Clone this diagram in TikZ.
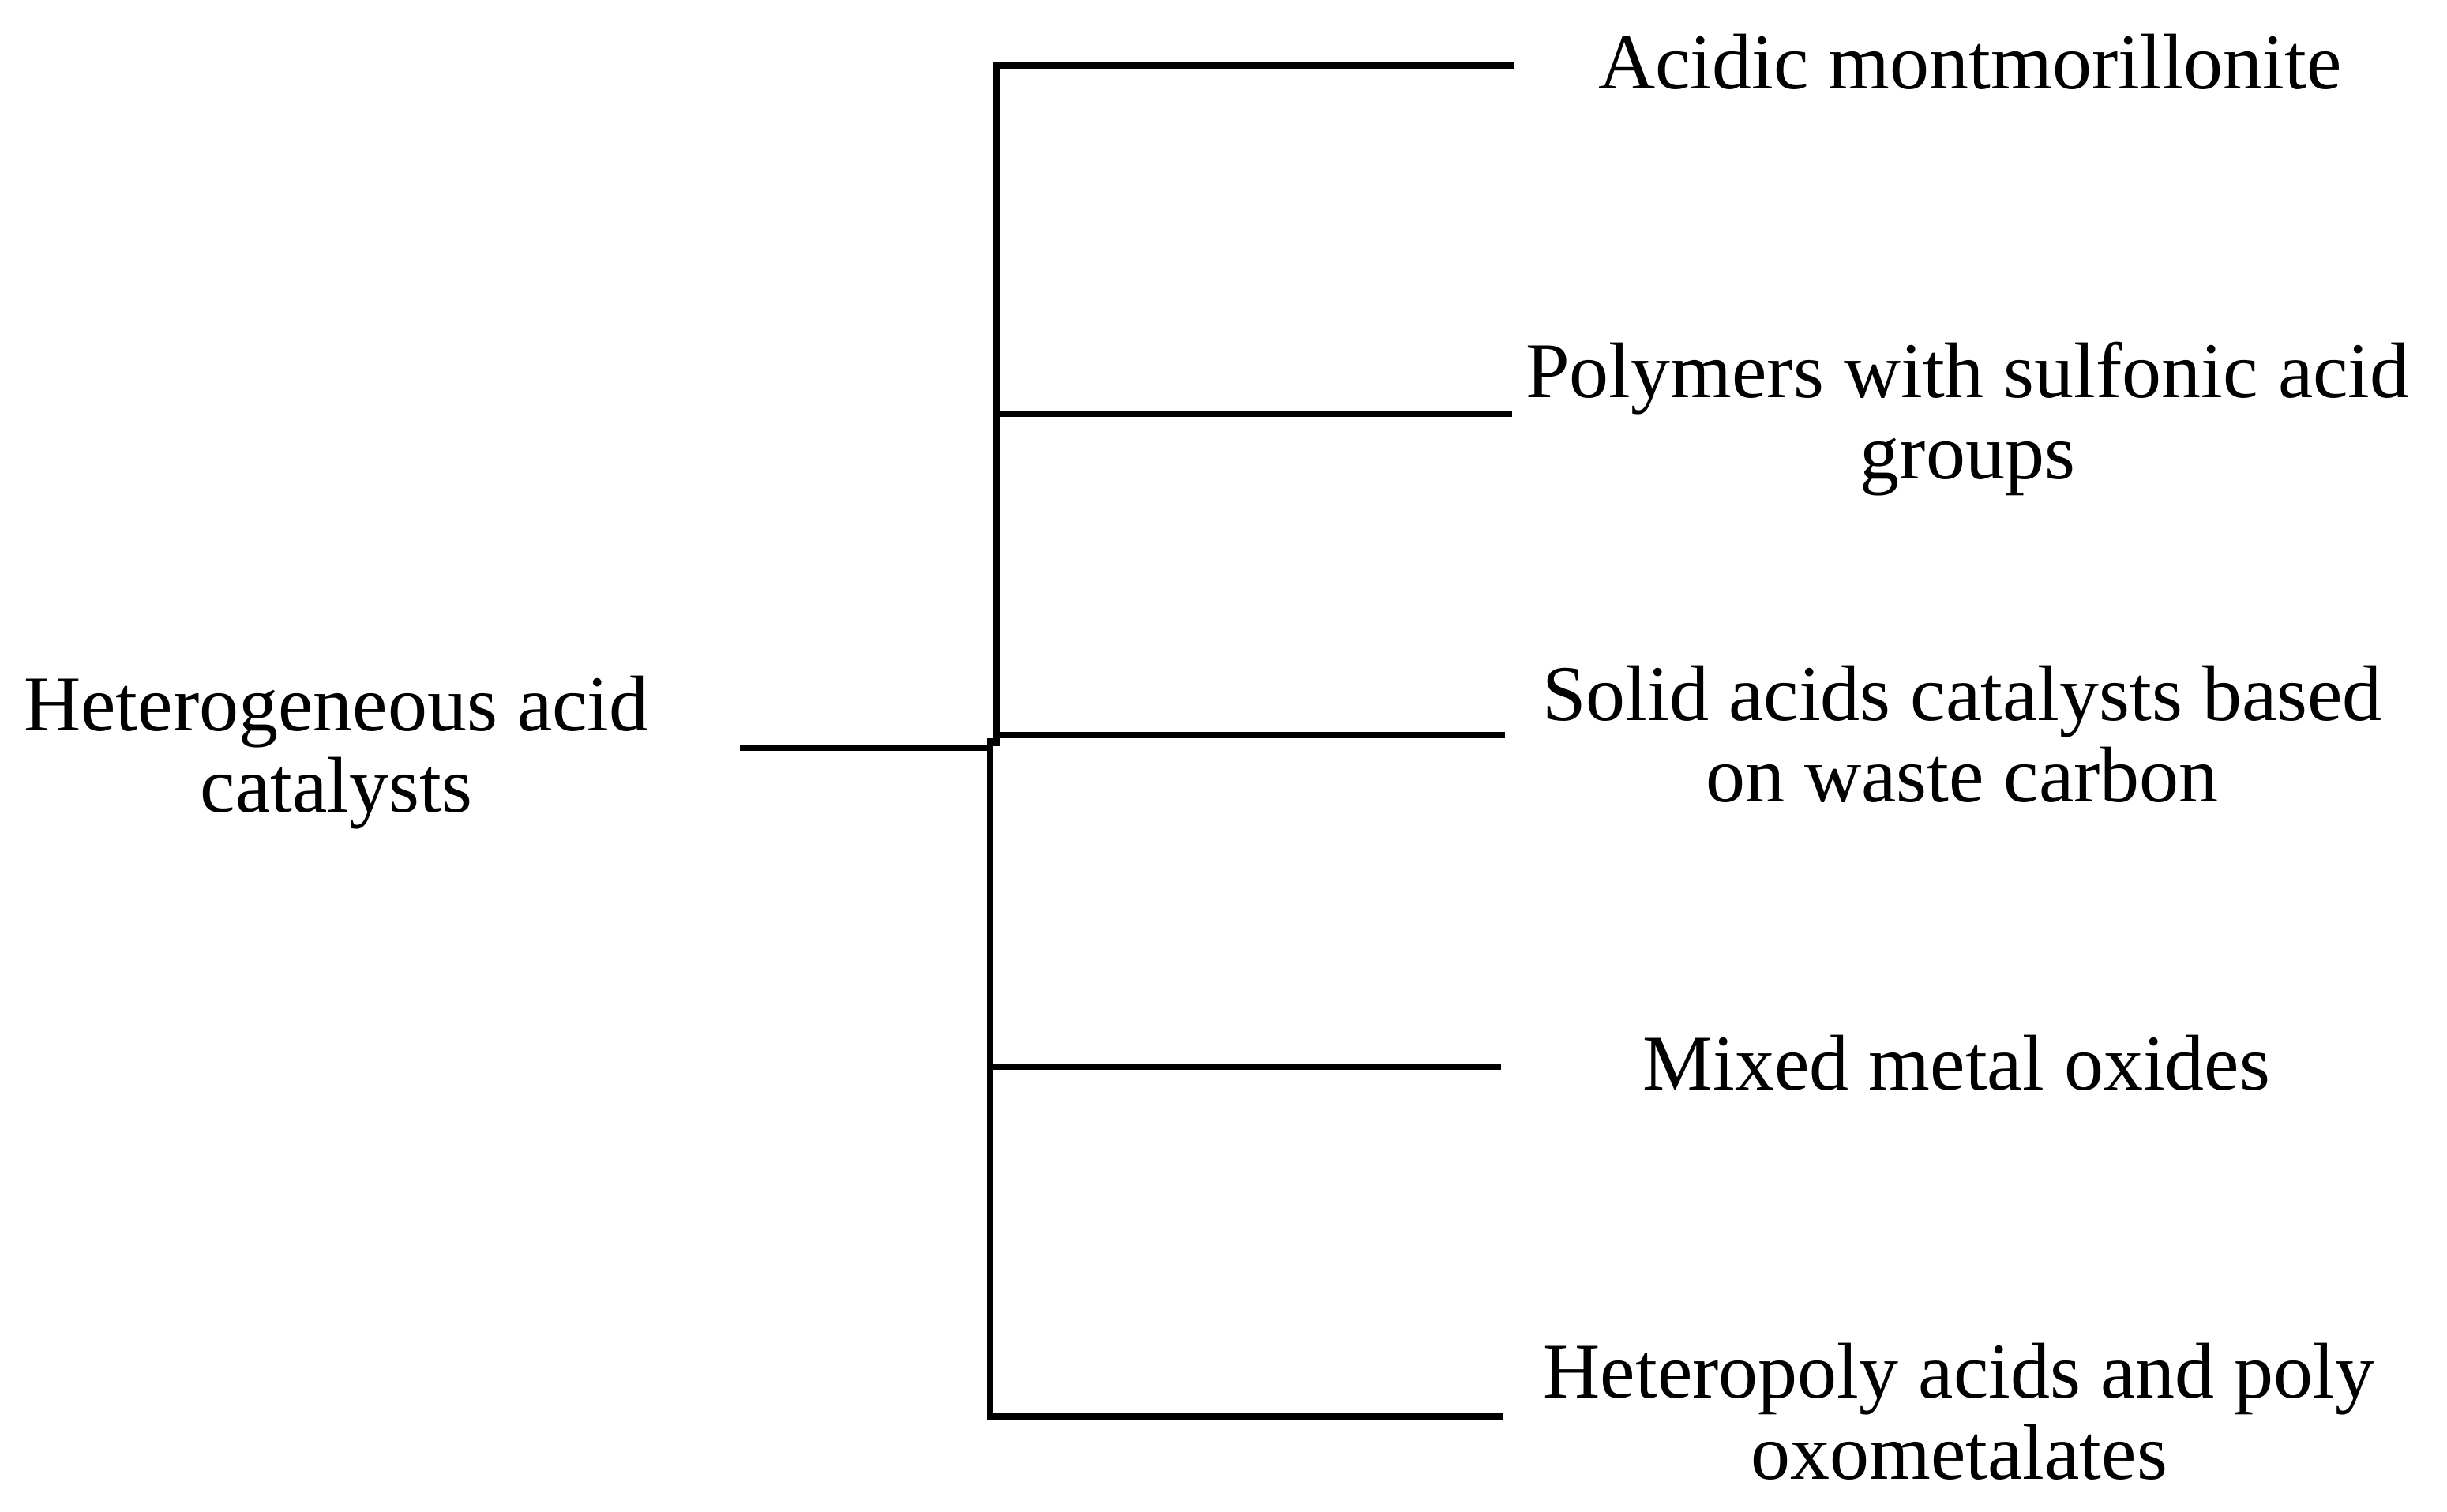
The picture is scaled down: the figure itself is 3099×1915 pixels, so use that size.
\documentclass[tikz,border=0pt]{standalone}
\usepackage{fontspec}
\setmainfont{Liberation Serif}
\tikzset{
  tree line/.style={draw,black,line width=2.1pt}, % all connectors
  leaf/.style={align=center,inner sep=0pt,font=\fontsize{25}{25.75}\selectfont},
}

\begin{document}
\begin{tikzpicture}[x=0.25pt,y=-0.25pt]
		\useasboundingbox (0,0) rectangle (3099,1915);

		% labels
		\node[leaf] (root) at (426,953) {Heterogeneous acid\\catalysts};
		\node[leaf] (acidic) at (2495,78) {Acidic montmorillonite};
		\node[leaf] (polymers) at (2492,531) {Polymers with sulfonic acid\\groups};
		\node[leaf] (solid) at (2485,930) {Solid acids catalysts based\\on waste carbon};
		\node[leaf] (mixed) at (2478,1346) {Mixed metal oxides};
		\node[leaf] (heteropoly) at (2481,1788) {Heteropoly acids and poly\\oxometalates};

		% joints of the tree
		\coordinate (stem) at (937,947);
		\coordinate (stemend) at (1254,947);
		\coordinate (upA) at (1262,83);
		\coordinate (upB) at (1262,524);
		\coordinate (upC) at (1262,931);
		\coordinate (upend) at (1262,945);
		\coordinate (lowstart) at (1254,935);
		\coordinate (lowD) at (1254,1351);
		\coordinate (lowE) at (1254,1794);
		\coordinate (endA) at (1917,83);
		\coordinate (endB) at (1915,524);
		\coordinate (endC) at (1906,931);
		\coordinate (endD) at (1901,1351);
		\coordinate (endE) at (1903,1794);

		\draw[tree line] (stem) -- (stemend);
		\draw[tree line] (endA) -- (upA) -- (upend); % upper spine
		\draw[tree line] (lowstart) -- (lowE) -- (endE); % lower spine
		\draw[tree line] (upB) -- (endB);
		\draw[tree line] (upC) -- (endC);
		\draw[tree line] (lowD) -- (endD);

\end{tikzpicture}
\end{document}
